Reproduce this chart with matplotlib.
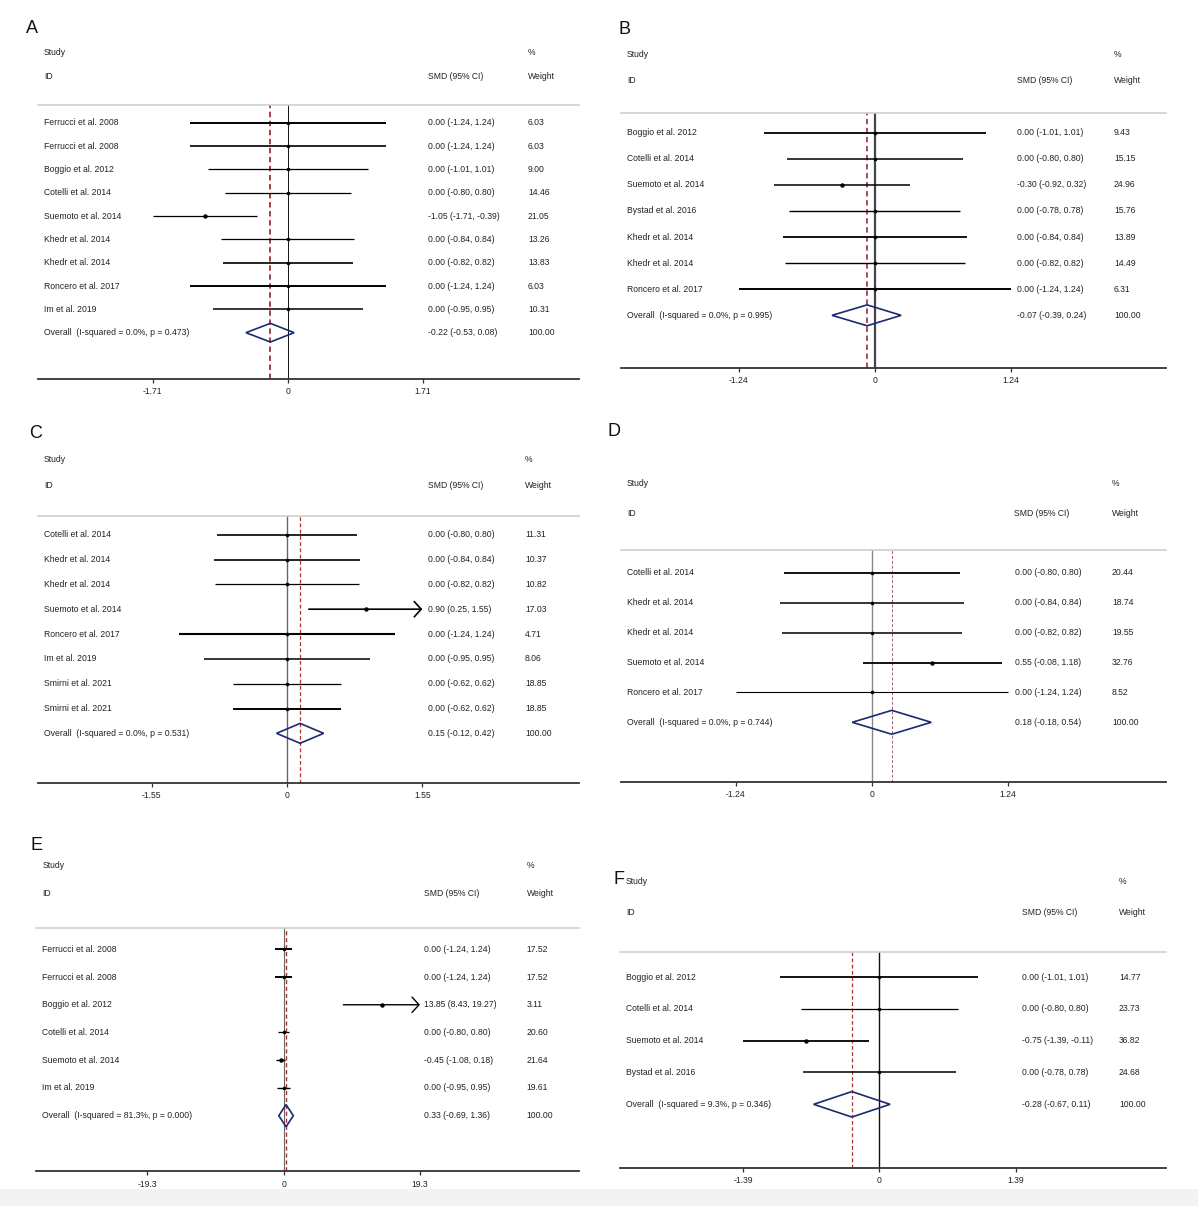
import matplotlib
matplotlib.use('Agg')
import matplotlib.pyplot as plt
from matplotlib.transforms import blended_transform_factory
from matplotlib.patches import Polygon, Rectangle

plt.rcParams['font.family'] = ['Liberation Sans', 'DejaVu Sans']

# ---------------- data ----------------
A_studies = ["Ferrucci et al. 2008", "Ferrucci et al. 2008", "Boggio et al. 2012", "Cotelli et al. 2014",
             "Suemoto et al. 2014", "Khedr et al. 2014", "Khedr et al. 2014", "Roncero et al. 2017", "Im et al. 2019"]
A_es = [0.00, 0.00, 0.00, 0.00, -1.05, 0.00, 0.00, 0.00, 0.00]
A_lo = [-1.24, -1.24, -1.01, -0.80, -1.71, -0.84, -0.82, -1.24, -0.95]
A_hi = [1.24, 1.24, 1.01, 0.80, -0.39, 0.84, 0.82, 1.24, 0.95]
A_w = [6.03, 6.03, 9.00, 14.46, 21.05, 13.26, 13.83, 6.03, 10.31]
A_overall = (-0.22, -0.53, 0.08)
A_i2, A_p, A_tick = 0.0, 0.473, 1.71
A_arrows = []

B_studies = ["Boggio et al. 2012", "Cotelli et al. 2014", "Suemoto et al. 2014", "Bystad et al. 2016",
             "Khedr et al. 2014", "Khedr et al. 2014", "Roncero et al. 2017"]
B_es = [0.00, 0.00, -0.30, 0.00, 0.00, 0.00, 0.00]
B_lo = [-1.01, -0.80, -0.92, -0.78, -0.84, -0.82, -1.24]
B_hi = [1.01, 0.80, 0.32, 0.78, 0.84, 0.82, 1.24]
B_w = [9.43, 15.15, 24.96, 15.76, 13.89, 14.49, 6.31]
B_overall = (-0.07, -0.39, 0.24)
B_i2, B_p, B_tick = 0.0, 0.995, 1.24
B_arrows = []

C_studies = ["Cotelli et al. 2014", "Khedr et al. 2014", "Khedr et al. 2014", "Suemoto et al. 2014",
             "Roncero et al. 2017", "Im et al. 2019", "Smirni et al. 2021", "Smirni et al. 2021"]
C_es = [0.00, 0.00, 0.00, 0.90, 0.00, 0.00, 0.00, 0.00]
C_lo = [-0.80, -0.84, -0.82, 0.25, -1.24, -0.95, -0.62, -0.62]
C_hi = [0.80, 0.84, 0.82, 1.55, 1.24, 0.95, 0.62, 0.62]
C_w = [11.31, 10.37, 10.82, 17.03, 4.71, 8.06, 18.85, 18.85]
C_overall = (0.15, -0.12, 0.42)
C_i2, C_p, C_tick = 0.0, 0.531, 1.55
C_arrows = [3]

D_studies = ["Cotelli et al. 2014", "Khedr et al. 2014", "Khedr et al. 2014", "Suemoto et al. 2014",
             "Roncero et al. 2017"]
D_es = [0.00, 0.00, 0.00, 0.55, 0.00]
D_lo = [-0.80, -0.84, -0.82, -0.08, -1.24]
D_hi = [0.80, 0.84, 0.82, 1.18, 1.24]
D_w = [20.44, 18.74, 19.55, 32.76, 8.52]
D_overall = (0.18, -0.18, 0.54)
D_i2, D_p, D_tick = 0.0, 0.744, 1.24
D_arrows = []

E_studies = ["Ferrucci et al. 2008", "Ferrucci et al. 2008", "Boggio et al. 2012", "Cotelli et al. 2014",
             "Suemoto et al. 2014", "Im et al. 2019"]
E_es = [0.00, 0.00, 13.85, 0.00, -0.45, 0.00]
E_lo = [-1.24, -1.24, 8.43, -0.80, -1.08, -0.95]
E_hi = [1.24, 1.24, 19.27, 0.80, 0.18, 0.95]
E_w = [17.52, 17.52, 3.11, 20.60, 21.64, 19.61]
E_overall = (0.33, -0.69, 1.36)
E_i2, E_p, E_tick = 81.3, 0.000, 19.3
E_arrows = [2]

F_studies = ["Boggio et al. 2012", "Cotelli et al. 2014", "Suemoto et al. 2014", "Bystad et al. 2016"]
F_es = [0.00, 0.00, -0.75, 0.00]
F_lo = [-1.01, -0.80, -1.39, -0.78]
F_hi = [1.01, 0.80, -0.11, 0.78]
F_w = [14.77, 23.73, 36.82, 24.68]
F_overall = (-0.28, -0.67, 0.11)
F_i2, F_p, F_tick = 9.3, 0.346, 1.39
F_arrows = []

# ---------------- layout (pixels) ----------------
W, HP = 1198, 1206
fig = plt.figure(figsize=(W / 100, HP / 100), dpi=100)
fig.patches.append(Rectangle((0, 0), 1, (HP - 1189) / HP, transform=fig.transFigure,
                             facecolor='#f3f3f3', edgecolor='none', zorder=-5))

TXT = '#222222'
FS = 6.2

panels = [
    dict(name='A', studies=A_studies, es=A_es, lo=A_lo, hi=A_hi, w=A_w, ov=A_overall, i2=A_i2, p=A_p,
         tick=A_tick, arrows=A_arrows,
         L=38, R=579, Z=287.8, S=79.0, H=105, B=379, y0=122.7, d=23.33,
         sx=44, cx=428, wx=528, sy=52.7, iy=76.3, lab=(32, 28.5),
         zero=('#111111', 0.7), dash=('#a0303a', 1.3),
         lws=[1.4, 1.2, 0.9, 0.9, 0.9, 0.9, 1.2, 1.4, 1.1]),
    dict(name='B', studies=B_studies, es=B_es, lo=B_lo, hi=B_hi, w=B_w, ov=B_overall, i2=B_i2, p=B_p,
         tick=B_tick, arrows=B_arrows,
         L=621, R=1166, Z=874.8, S=109.7, H=112.7, B=367.7, y0=132.7, d=26.09,
         sx=627, cx=1017, wx=1114, sy=54.3, iy=80.7, lab=(624, 30),
         zero=('#444444', 1.6), dash=('#a04048', 1.3),
         lws=[1.3, 1.1, 1.1, 1.0, 1.3, 1.0, 1.4]),
    dict(name='C', studies=C_studies, es=C_es, lo=C_lo, hi=C_hi, w=C_w, ov=C_overall, i2=C_i2, p=C_p,
         tick=C_tick, arrows=C_arrows,
         L=38, R=579, Z=287.0, S=87.3, H=516, B=782.7, y0=534.7, d=24.83,
         sx=44, cx=427.5, wx=525, sy=460, iy=485, lab=(35.6, 433.5),
         zero=('#666666', 1.0), dash=('#b03030', 0.9),
         lws=[1.2, 1.2, 0.9, 1.2, 1.5, 1.1, 0.9, 1.4]),
    dict(name='D', studies=D_studies, es=D_es, lo=D_lo, hi=D_hi, w=D_w, ov=D_overall, i2=D_i2, p=D_p,
         tick=D_tick, arrows=D_arrows,
         L=621, R=1166, Z=872.0, S=109.8, H=550, B=781.7, y0=573, d=29.86,
         sx=627, cx=1014.5, wx=1112, sy=483, iy=513, lab=(614, 431),
         zero=('#888888', 1.0), dash=('#a06060', 0.7),
         lws=[1.3, 1.1, 1.1, 1.3, 0.8]),
    dict(name='E', studies=E_studies, es=E_es, lo=E_lo, hi=E_hi, w=E_w, ov=E_overall, i2=E_i2, p=E_p,
         tick=E_tick, arrows=E_arrows,
         L=36, R=579.4, Z=283.7, S=7.07, H=928.3, B=1171.3, y0=949.3, d=27.73,
         sx=42.4, cx=424.4, wx=526.7, sy=866, iy=893.3, lab=(36.5, 845.5),
         zero=('#666666', 0.8), dash=('#a03030', 1.0),
         lws=[1.4, 1.4, 1.0, 0.9, 1.0, 1.0]),
    dict(name='F', studies=F_studies, es=F_es, lo=F_lo, hi=F_hi, w=F_w, ov=F_overall, i2=F_i2, p=F_p,
         tick=F_tick, arrows=F_arrows,
         L=620, R=1166, Z=879.3, S=98.0, H=952.3, B=1167.7, y0=977, d=31.83,
         sx=626, cx=1021.7, wx=1119, sy=881.7, iy=912.7, lab=(619, 880),
         zero=('#111111', 1.0), dash=('#b03030', 0.9),
         lws=[1.3, 0.9, 1.3, 1.1]),
]


def fx(px):
    return px / W


def fy(py):
    return 1 - py / HP


for P in panels:
    L, R, Z, S, H, B = P['L'], P['R'], P['Z'], P['S'], P['H'], P['B']
    ax = fig.add_axes([fx(L), fy(B), (R - L) / W, (B - H) / HP])
    ax.set_xlim((L - Z) / S, (R - Z) / S)
    ax.set_ylim((B - P['y0']) / P['d'], (H - P['y0']) / P['d'])
    ax.set_facecolor('none')
    for s in ('left', 'right'):
        ax.spines[s].set_visible(False)
    ax.spines['top'].set_color('#d0d0d0')
    ax.spines['top'].set_linewidth(1.2)
    ax.spines['bottom'].set_color('#333333')
    ax.spines['bottom'].set_linewidth(1.3)
    ax.set_yticks([])
    t = P['tick']
    ax.set_xticks([-t, 0, t])
    ax.set_xticklabels([f"{-t:g}", "0", f"{t:g}"], fontsize=FS, color=TXT)
    ax.tick_params(axis='x', direction='out', length=3, width=0.9, pad=3, color='#333333')

    # reference lines
    ax.axvline(0, color=P['zero'][0], lw=P['zero'][1], zorder=1)
    ax.axvline(P['ov'][0], color=P['dash'][0], lw=P['dash'][1], dashes=(3.0, 2.0), zorder=1)

    tr = blended_transform_factory(ax.transAxes, ax.transData)

    def xa(px):
        return (px - L) / (R - L)

    n = len(P['studies'])
    for i in range(n):
        es, lo, hi = P['es'][i], P['lo'][i], P['hi'][i]
        lw = P['lws'][i]
        if i in P['arrows']:
            ax.annotate('', xy=(hi, i), xytext=(lo, i),
                        arrowprops=dict(arrowstyle='->,head_length=0.5,head_width=0.55',
                                        lw=lw, color='black', shrinkA=0, shrinkB=0),
                        zorder=3)
        else:
            ax.plot([lo, hi], [i, i], color='black', lw=lw, solid_capstyle='butt', zorder=3)
        ax.plot([es], [i], 'o', color='black', ms=3.2 if es != 0 else 2.6, mew=0, zorder=4)
        ax.text(xa(P['sx']), i, P['studies'][i], transform=tr, ha='left', va='center',
                fontsize=FS, color=TXT)
        ax.text(xa(P['cx']), i, f"{es:.2f} ({lo:.2f}, {hi:.2f})", transform=tr, ha='left',
                va='center', fontsize=FS, color=TXT)
        ax.text(xa(P['wx']), i, f"{P['w'][i]:.2f}", transform=tr, ha='left', va='center',
                fontsize=FS, color=TXT)

    # overall diamond
    oe, olo, ohi = P['ov']
    k = n
    dia = Polygon([(olo, k), (oe, k - 0.4), (ohi, k), (oe, k + 0.4)], closed=True,
                  facecolor='none', edgecolor='#1c2a6e', lw=1.2, zorder=5)
    ax.add_patch(dia)
    ax.text(xa(P['sx']), k, f"Overall  (I-squared = {P['i2']:.1f}%, p = {P['p']:.3f})",
            transform=tr, ha='left', va='center', fontsize=FS, color=TXT)
    ax.text(xa(P['cx']), k, f"{oe:.2f} ({olo:.2f}, {ohi:.2f})", transform=tr, ha='left',
            va='center', fontsize=FS, color=TXT)
    ax.text(xa(P['wx']), k, "100.00", transform=tr, ha='left', va='center', fontsize=FS, color=TXT)

    # headers
    fig.text(fx(P['sx']), fy(P['sy']), "Study", ha='left', va='center', fontsize=FS, color=TXT)
    fig.text(fx(P['sx']), fy(P['iy']), "ID", ha='left', va='center', fontsize=FS, color=TXT)
    fig.text(fx(P['cx']), fy(P['iy']), "SMD (95% CI)", ha='left', va='center', fontsize=FS, color=TXT)
    fig.text(fx(P['wx']), fy(P['sy']), "%", ha='left', va='center', fontsize=FS, color=TXT)
    fig.text(fx(P['wx']), fy(P['iy']), "Weight", ha='left', va='center', fontsize=FS, color=TXT)
    fig.text(fx(P['lab'][0]), fy(P['lab'][1]), P['name'], ha='center', va='center',
             fontsize=13, color='#111111')

fig.savefig('out.png', dpi=100, facecolor='white')
